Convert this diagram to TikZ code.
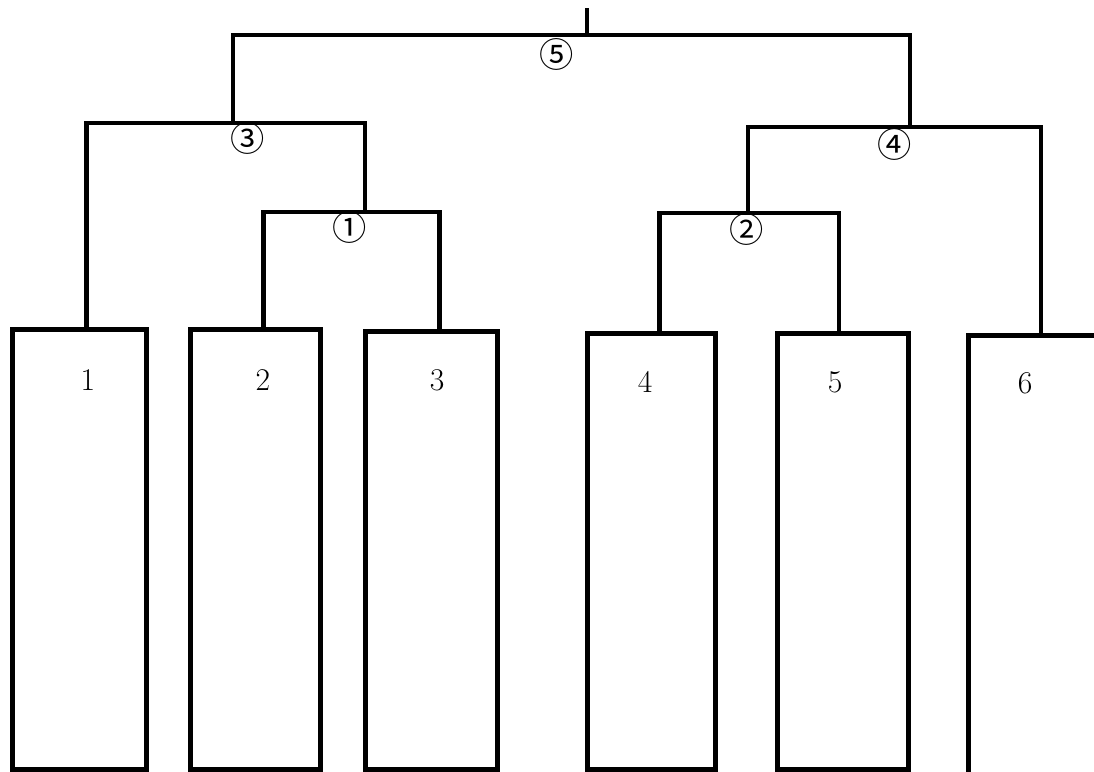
\documentclass[tikz,border=0pt]{standalone}
\usepackage{fontspec}
\newfontfamily\circfont{Noto Sans CJK JP}
\tikzset{
	leaf/.style={draw, line width=2.7pt, rectangle, anchor=north west, inner sep=0pt},
	link/.style={line width=2.7pt},
	num/.style={font=\fontsize{18}{20}\selectfont, inner sep=0pt},
	step label/.style={font=\circfont\fontsize{19.5}{21}\selectfont, inner sep=0pt}
}
\begin{document}
\begin{tikzpicture}[x=0.02cm, y=-0.02cm]
		\useasboundingbox (0,0) rectangle (1094,771);
		\clip (0,0) rectangle (1094,771);
		% the six leaves
		\foreach \i/\x/\y/\w/\h in {1/10/327/2.68/8.8, 2/188/327/2.6/8.8, 3/363/329/2.64/8.76, 4/585/331/2.56/8.72, 5/775/331/2.62/8.72, 6/966/333/4/9.6}
		{
			\node[leaf, minimum width=\w cm, minimum height=\h cm] (b\i) at (\x,\y) {};
		}
		\node[num] (n1) at (88,380) {1};
		\node[num] (n2) at (263,380) {2};
		\node[num] (n3) at (437,380) {3};
		\node[num] (n4) at (645,382) {4};
		\node[num] (n5) at (835,382) {5};
		\node[num] (n6) at (1025,383) {6};
		% where the links meet the leaves
		\path (b1.north) ++(7,0) coordinate (a1);
		\path (b2.north) ++(8,0) coordinate (a2);
		\path (b3.north) ++(8,0) coordinate (a3);
		\path (b4.north) ++(8,0) coordinate (a4);
		\path (b5.north) ++(-4,0) coordinate (a5);
		\path (b6.north west) ++(75,0) coordinate (a6);
		% merges
		\coordinate (m1) at (365,212);
		\coordinate (m2) at (748,213);
		\coordinate (m3) at (233,123);
		\coordinate (m4) at (910,127);
		\coordinate (m5) at (587,35);
		\coordinate (root) at (587,8);
		\draw[link] (a2) |- (m1) -| (a3);
		\draw[link] (a1) |- (m3) -| (m1);
		\draw[link] (a4) |- (m2) -| (a5);
		\draw[link] (m2) |- (m4) -| (a6);
		\draw[link] (m3) |- (m5) -| (m4);
		\draw[link] (m5) -- (root);
		\node[step label] (s1) at (350,227) {①};
		\node[step label] (s2) at (747,229) {②};
		\node[step label] (s3) at (248,138) {③};
		\node[step label] (s4) at (895,144) {④};
		\node[step label] (s5) at (557,54) {⑤};
		\end{tikzpicture}
\end{document}
